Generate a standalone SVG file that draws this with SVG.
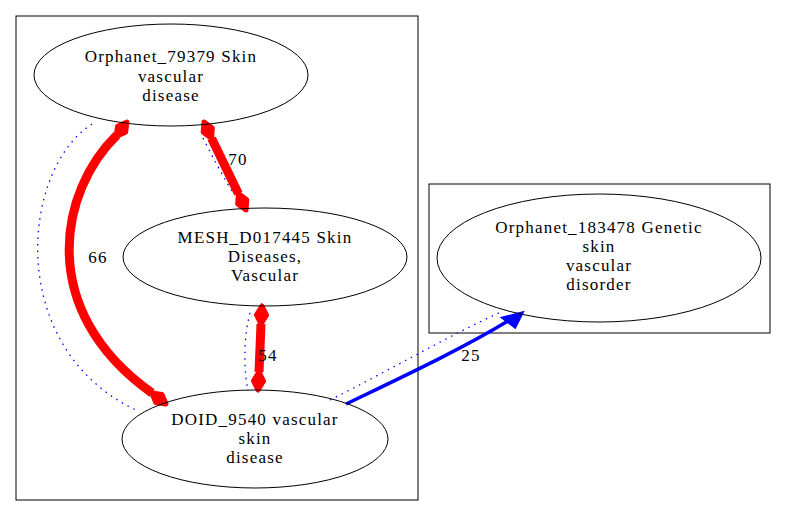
<svg xmlns="http://www.w3.org/2000/svg" width="787" height="517" viewBox="0 0 787 517">
<style>
.node{fill:none;stroke:#000;stroke-width:1}
.cl{fill:none;stroke:#000;stroke-width:1}
.red{fill:none;stroke:#f00;stroke-width:9}
.dia{fill:#f00;stroke:#f00;stroke-width:5;stroke-linejoin:round}
.dot{fill:none;stroke:#00f;stroke-width:1.3;stroke-dasharray:1.5,5}
.blue{fill:none;stroke:#00f;stroke-width:3.5}
</style>
<rect width="787" height="517" fill="#fff"/>
<rect class="cl" x="16" y="16" width="402" height="484"/>
<rect class="cl" x="429" y="184" width="341" height="149"/>
<g font-family="'Liberation Serif','Times New Roman',serif" font-size="17" letter-spacing="1.2" text-anchor="middle" fill="#000">
<g id="edges">
<path class="dot" d="M92,124 C20,170 5,350 138,411"/>
<path class="dot" d="M203,138 C213,158 224,178 233,193"/>
<path class="dot" d="M250,313 C243,340 244,370 248,391"/>
<path class="dot" d="M330,400 C390,370 450,335 503,311"/>
<path class="red" d="M117,135 C60,190 35,310 152,393"/>
<polygon class="dia" points="127,122 125.6,132.2 116.2,136.4 117.6,126.2"/>
<polygon class="dia" points="166,404 162,394.5 151.8,393 155.8,402.5"/>
<path class="red" d="M211.6,138.4 L238.4,193.6"/>
<polygon class="dia" points="204,122 212.3,128.1 211.6,138.4 203.2,132.3"/>
<polygon class="dia" points="246,210 237.7,203.9 238.4,193.6 246.8,199.7"/>
<path class="red" d="M261,324 L259,372" stroke-width="7"/>
<polygon class="dia" points="262,306 266.5,315.2 261,324 256.5,314.8"/>
<polygon class="dia" points="258,390 253.5,380.8 259,372 263.5,381.2"/>
<path class="blue" d="M346,404 C400,378 460,350 508,321"/>
<polygon points="522,313 503,318 515,327" fill="#00f" stroke="#00f" stroke-width="3" stroke-linejoin="miter"/>
<text x="238" y="165">70</text>
<text x="98" y="263">66</text>
<text x="268" y="361">54</text>
<text x="471" y="361">25</text>
</g>
<g id="n1">
<ellipse class="node" cx="171" cy="75" rx="137" ry="51"/>
<text x="171" y="62">Orphanet_79379 Skin</text>
<text x="171" y="82">vascular</text>
<text x="171" y="101">disease</text>
</g>
<g id="n2">
<ellipse class="node" cx="265" cy="257" rx="142" ry="49"/>
<text x="265" y="243">MESH_D017445 Skin</text>
<text x="265" y="262">Diseases,</text>
<text x="265" y="281">Vascular</text>
</g>
<g id="n3">
<ellipse class="node" cx="255" cy="439" rx="133" ry="49"/>
<text x="255" y="425">DOID_9540 vascular</text>
<text x="255" y="444">skin</text>
<text x="255" y="463">disease</text>
</g>
<g id="n4">
<ellipse class="node" cx="599" cy="258" rx="162" ry="64"/>
<text x="599" y="233">Orphanet_183478 Genetic</text>
<text x="599" y="252">skin</text>
<text x="599" y="271">vascular</text>
<text x="599" y="290">disorder</text>
</g>
</g>
</svg>
